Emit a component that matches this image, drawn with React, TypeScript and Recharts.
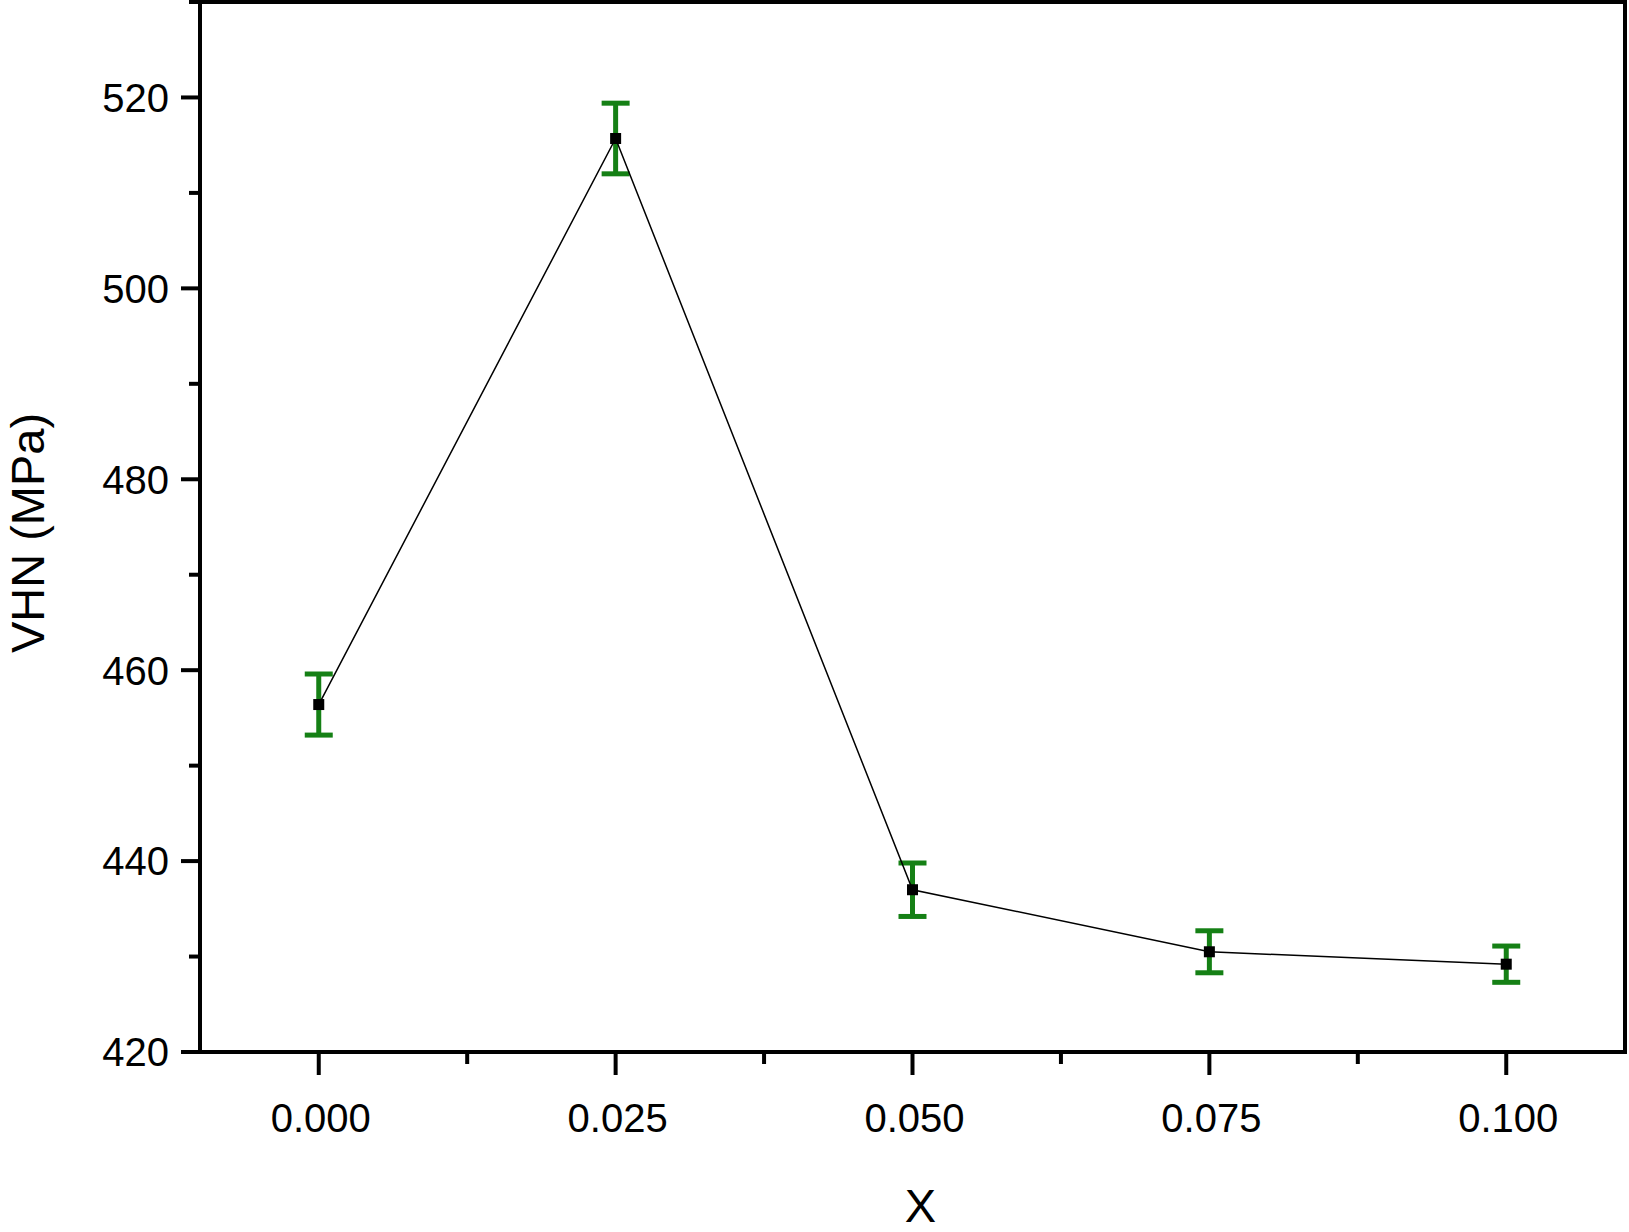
import { LineChart, Line, XAxis, YAxis, ErrorBar, ReferenceArea } from "recharts";

const xValues = [0, 0.025, 0.05, 0.075, 0.1];
const vhn = [456.4, 515.7, 437.0, 430.5, 429.2];
const vhnErr = [3.2, 3.7, 2.8, 2.2, 1.9];

const xTicks = [0, 0.0125, 0.025, 0.0375, 0.05, 0.0625, 0.075, 0.0875, 0.1];
const yTicks = [420, 430, 440, 450, 460, 470, 480, 490, 500, 510, 520, 530];

const data = xValues.map((x, i) => ({ x, vhn: vhn[i], err: vhnErr[i] }));

const FONT = "'Liberation Sans', Arial, Helvetica, sans-serif";

function XTick(props: any) {
  const { x, y, payload } = props;
  const v = payload.value;
  const major = Math.abs(v * 40 - Math.round(v * 40)) < 1e-6;
  return (
    <g>
      <line x1={x} x2={x} y1={y} y2={y + (major ? 23 : 12)} stroke="#000" strokeWidth={4} />
      {major && (
        <text x={x + 2} y={y + 80} textAnchor="middle" fontSize={40} fontFamily={FONT} fill="#000">
          {v.toFixed(3)}
        </text>
      )}
    </g>
  );
}

function YTick(props: any) {
  const { x, y, payload } = props;
  const v = payload.value;
  const major = v % 20 === 0;
  return (
    <g>
      <line x1={x - (major ? 19 : 11)} x2={x} y1={y} y2={y} stroke="#000" strokeWidth={4} />
      {major && (
        <text x={x - 31} y={y} dy="0.36em" textAnchor="end" fontSize={40} fontFamily={FONT} fill="#000">
          {v}
        </text>
      )}
    </g>
  );
}

export default function App() {
  return (
    <div style={{ position: "absolute", left: 0, top: 0, background: "#fff" }}>
      <LineChart
        width={1629}
        height={1232}
        data={data}
        margin={{ top: 2, right: 4, bottom: 0, left: 0 }}
      >
        <XAxis
          dataKey="x"
          type="number"
          domain={[-0.01, 0.11]}
          ticks={xTicks}
          interval={0}
          height={180}
          tickSize={0}
          tickMargin={0}
          tickLine={false}
          tick={<XTick />}
          axisLine={{ stroke: "#000", strokeWidth: 4 }}
          allowDataOverflow
          label={{
            content: (p: any) => (
              <text
                x={p.viewBox.x + p.viewBox.width / 2 + 8}
                y={p.viewBox.y + 170}
                textAnchor="middle"
                fontSize={47}
                fontFamily={FONT}
                fill="#000"
              >
                X
              </text>
            ),
          }}
        />
        <YAxis
          type="number"
          domain={[420, 530]}
          ticks={yTicks}
          interval={0}
          width={200}
          tickSize={0}
          tickMargin={0}
          tickLine={false}
          tick={<YTick />}
          axisLine={{ stroke: "#000", strokeWidth: 4 }}
          allowDataOverflow
          label={{
            content: (p: any) => {
              const cx = p.viewBox.x + 27;
              const cy = p.viewBox.y + p.viewBox.height / 2 + 6;
              return (
                <text
                  x={cx}
                  y={cy}
                  dy="0.36em"
                  textAnchor="middle"
                  transform={`rotate(-90 ${cx} ${cy})`}
                  fontSize={47}
                  fontFamily={FONT}
                  fill="#000"
                >
                  VHN (MPa)
                </text>
              );
            },
          }}
        />
        <ReferenceArea
          x1={-0.01}
          x2={0.11}
          y1={420}
          y2={530}
          stroke="#000"
          strokeWidth={4}
          fill="none"
          fillOpacity={0}
        />
        <Line
          dataKey="vhn"
          type="linear"
          stroke="#000"
          strokeWidth={1.5}
          isAnimationActive={false}
          dot={(p: any) => (
            <rect key={`d${p.index}`} x={p.cx - 5.5} y={p.cy - 5.5} width={11} height={11} fill="#000" />
          )}
          activeDot={false}
        >
          <ErrorBar dataKey="err" direction="y" width={14} strokeWidth={5} stroke="#158015" isAnimationActive={false} />
        </Line>
      </LineChart>
    </div>
  );
}
